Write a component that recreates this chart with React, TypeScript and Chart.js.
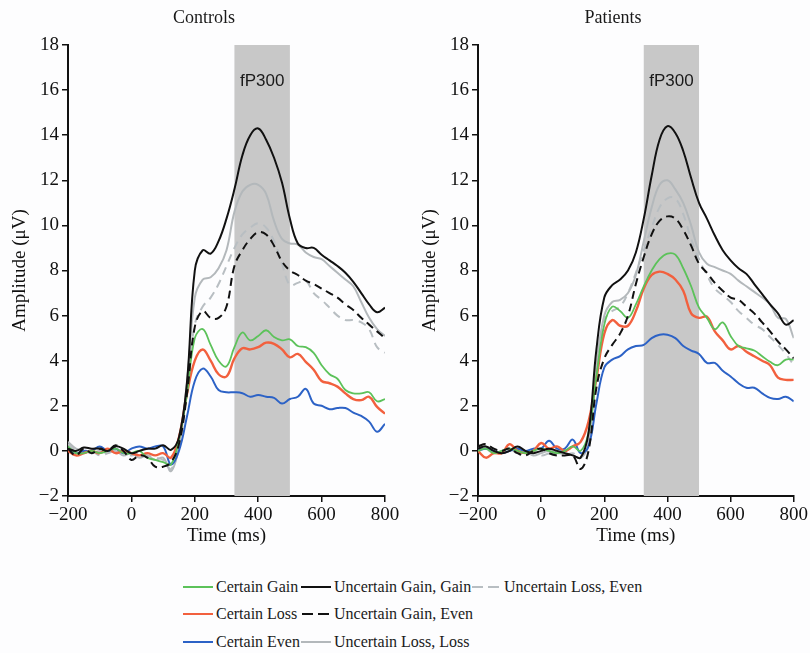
import React, { useEffect, useRef } from "react";
import { Chart, registerables } from "chart.js";

Chart.register(...registerables);

// ---------- data ----------
const times = [
  -200, -175, -150, -125, -100, -75, -50, -25, 0, 25, 50, 75, 100,
  125, 150, 175, 200,
  225, 250, 275, 300, 325, 350, 375, 400,
  425, 450, 475, 500, 525, 550, 575, 600,
  625, 650, 675, 700, 725, 750, 775, 800,
];

const xTicks = [-200, 0, 200, 400, 600, 800];
const yTicks = [-2, 0, 2, 4, 6, 8, 10, 12, 14, 16, 18];
const bandStart = 325;
const bandEnd = 500;
const bandLabel = "fP300";

// Controls
const ctrlCertainGain = [0.2, -0.1, -0.1, 0.0, -0.1, 0.0, 0.1, -0.1, -0.1, 0.0, -0.3, -0.4, -0.5,
  -0.6, 0.5, 2.5, 5.0,
  5.4, 4.7, 4.0, 3.75, 4.6, 5.25, 4.9, 5.1,
  5.35, 5.05, 4.9, 4.95, 4.65, 4.6, 4.35, 3.8,
  3.4, 3.2, 2.7, 2.55, 2.55, 2.6, 2.2, 2.3];
const ctrlCertainLoss = [0.0, -0.2, -0.1, 0.0, -0.1, 0.1, -0.1, 0.0, -0.1, -0.2, -0.1, -0.2, -0.1,
  -0.3, 0.6, 2.5, 4.0,
  4.5, 4.0, 3.4, 3.3, 4.1, 4.55, 4.5, 4.6,
  4.8, 4.75, 4.5, 4.15, 4.3, 3.95, 3.6, 3.1,
  3.0, 2.85, 2.55, 2.3, 2.25, 2.4, 1.95, 1.65];
const ctrlCertainEven = [0.1, -0.1, 0.0, 0.0, 0.2, 0.0, 0.1, -0.1, 0.1, 0.2, 0.1, 0.2, 0.2,
  -0.6, 0.0, 1.5, 3.1,
  3.65, 3.3, 2.7, 2.6, 2.6, 2.56, 2.4, 2.48,
  2.4, 2.35, 2.1, 2.3, 2.4, 2.75, 2.1, 2.0,
  1.85, 1.9, 1.9, 1.7, 1.55, 1.3, 0.85, 1.2];
const ctrlUncGainGain = [0.1, 0.0, 0.15, 0.1, 0.1, 0.0, 0.2, 0.1, -0.1, 0.0, 0.1, 0.1, 0.25,
  0.05, 0.6, 3.0, 8.0,
  8.9, 8.75, 9.3, 10.3, 11.6, 13.1, 14.0, 14.3,
  13.8, 13.0, 11.9, 10.3, 9.2, 9.0, 9.0, 8.7,
  8.45, 8.2, 7.9, 7.5, 7.0, 6.5, 6.15, 6.35];
const ctrlUncGainEven = [0.1, -0.2, 0.1, -0.1, 0.1, 0.0, 0.25, 0.0, -0.4, -0.2, -0.3, -0.7, -0.7,
  -0.5, 0.3, 2.5, 5.5,
  6.2, 5.9, 5.9, 6.4, 8.2, 8.9, 9.4, 9.7,
  9.6, 9.1, 8.4, 8.0, 7.8, 7.55, 7.4, 7.2,
  7.0, 6.8, 6.5, 6.25, 5.9, 5.6, 5.3, 5.0];
const ctrlUncLossEven = [0.3, 0.0, -0.1, 0.0, -0.2, -0.1, 0.1, -0.1, -0.2, -0.1, -0.2, -0.3, -0.4,
  -0.8, 0.2, 2.8, 5.6,
  6.4, 6.8, 7.4, 8.2, 9.0, 9.6, 9.9, 10.1,
  9.9, 9.3, 8.3, 7.35, 7.45, 7.55, 7.0, 6.7,
  6.35, 6.0, 5.8, 5.8, 5.7, 5.4, 4.6, 4.35];
const ctrlUncLossLoss = [0.4, 0.1, 0.0, -0.1, 0.0, -0.1, 0.0, -0.2, -0.1, -0.3, -0.2, -0.4, -0.3,
  -0.9, 0.2, 3.0, 6.8,
  7.6, 7.7, 8.1, 8.9, 10.6, 11.5, 11.8, 11.8,
  11.4, 10.2, 9.4, 9.2, 9.15, 8.8, 8.6, 8.5,
  8.2, 7.9, 7.6, 7.3, 6.6, 5.9, 5.4, 5.1];

// Patients
const patCertainGain = [0.0, 0.1, -0.1, 0.0, 0.1, 0.0, -0.1, 0.0, 0.1, 0.0, -0.1, 0.0, 0.2,
  0.0, 0.8, 3.3, 5.6,
  6.4, 6.2, 5.9, 6.5, 7.3, 8.0, 8.5, 8.75,
  8.7, 8.1, 7.3, 6.35, 5.9, 5.4, 5.7, 5.1,
  4.65, 4.55, 4.45, 4.2, 3.95, 3.8, 4.05, 4.05];
const patCertainLoss = [0.0, -0.3, -0.1, -0.1, 0.3, 0.0, -0.1, 0.0, 0.35, 0.1, 0.2, 0.0, 0.2,
  0.4, 1.3, 3.2, 5.2,
  5.8, 5.55, 5.55, 6.2, 7.2, 7.8, 7.95, 7.85,
  7.6, 7.1, 6.1, 5.9, 5.95, 5.3, 4.9, 4.5,
  4.65, 4.4, 4.2, 4.0, 3.8, 3.25, 3.15, 3.15];
const patCertainEven = [0.0, 0.1, 0.0, -0.1, 0.0, 0.1, 0.0, 0.1, 0.1, 0.45, 0.1, 0.1, 0.5,
  -0.1, 0.2, 2.1, 3.7,
  4.05, 4.2, 4.5, 4.65, 4.7, 5.0, 5.15, 5.15,
  5.0, 4.65, 4.45, 4.3, 3.9, 3.9, 3.55, 3.3,
  3.0, 2.8, 2.8, 2.55, 2.35, 2.3, 2.4, 2.2];
const patUncGainGain = [0.1, 0.2, 0.0, -0.1, 0.0, 0.2, 0.0, -0.1, 0.0, 0.1, 0.0, -0.1, -0.2,
  -0.3, 0.8, 4.5, 6.8,
  7.35, 7.6, 8.0, 8.8, 10.3, 12.2, 13.8, 14.4,
  14.1, 13.3, 12.1, 11.0, 10.3, 9.55, 8.9, 8.45,
  8.1, 7.85, 7.4, 6.95, 6.5, 6.1, 5.6, 5.8];
const patUncGainEven = [0.2, 0.3, 0.1, 0.0, 0.1, -0.1, -0.2, 0.0, 0.1, -0.1, -0.2, -0.2, -0.2,
  -0.8, 0.0, 2.8, 4.1,
  4.7, 5.2, 6.0, 7.4, 8.6, 9.6, 10.2, 10.4,
  10.3, 9.8, 9.1, 8.3, 7.9, 7.45, 7.1, 6.8,
  6.7, 6.4, 6.1, 5.7, 5.3, 4.85, 4.5, 4.1];
const patUncLossEven = [0.0, 0.2, 0.1, -0.1, 0.0, 0.1, -0.1, 0.0, -0.2, -0.1, 0.0, -0.2, -0.1,
  -0.3, 0.3, 3.5, 5.8,
  6.2, 6.4, 7.0, 7.9, 8.9, 9.9, 10.8, 11.2,
  11.2, 10.5, 9.4, 8.5, 7.8, 7.2, 6.9, 6.6,
  6.2, 5.9, 5.6, 5.4, 5.05, 4.7, 4.3, 3.8];
const patUncLossLoss = [0.2, 0.1, -0.1, 0.0, 0.1, -0.1, 0.0, -0.2, -0.1, 0.0, -0.1, -0.1, -0.2,
  -0.3, 0.3, 3.8, 6.0,
  6.6, 6.7, 7.0, 7.8, 9.3, 10.8, 11.8, 12.0,
  11.6, 11.0, 10.0, 8.8, 8.3, 8.15, 8.0, 7.85,
  7.55, 7.3, 7.05, 6.8, 6.5, 5.9, 5.85, 5.0];

// ---------- styles ----------
type Style = { key: string; label: string; color: string; dash: number[]; width: number };
const STYLES: Style[] = [
  { key: "ugg", label: "Uncertain Gain, Gain", color: "#111111", dash: [], width: 2 },
  { key: "uge", label: "Uncertain Gain, Even", color: "#111111", dash: [8, 5], width: 2 },
  { key: "cg", label: "Certain Gain", color: "#5cc25a", dash: [], width: 1.8 },
  { key: "cl", label: "Certain Loss", color: "#f2603e", dash: [], width: 2.4 },
  { key: "ce", label: "Certain Even", color: "#2c62c6", dash: [], width: 2 },
  { key: "ull", label: "Uncertain Loss, Loss", color: "#b3b8bb", dash: [], width: 2 },
  { key: "ule", label: "Uncertain Loss, Even", color: "#b8bec2", dash: [8, 6], width: 2 },
];

const controls: Record<string, number[]> = {
  cg: ctrlCertainGain, cl: ctrlCertainLoss, ce: ctrlCertainEven,
  ugg: ctrlUncGainGain, uge: ctrlUncGainEven, ule: ctrlUncLossEven, ull: ctrlUncLossLoss,
};
const patients: Record<string, number[]> = {
  cg: patCertainGain, cl: patCertainLoss, ce: patCertainEven,
  ugg: patUncGainGain, uge: patUncGainEven, ule: patUncLossEven, ull: patUncLossLoss,
};

const minus = (v: number | string) => String(v).replace("-", "\u2212");
const SERIF = "'Liberation Serif', 'Times New Roman', serif";
const SANS = "'Liberation Sans', Arial, sans-serif";

const panelPlugin = {
  id: "panel",
  beforeDatasetsDraw(chart: any, _args: any, opts: any) {
    const { ctx, chartArea, scales } = chart;
    const x0 = scales.x.getPixelForValue(bandStart);
    const x1 = scales.x.getPixelForValue(bandEnd);
    ctx.save();
    ctx.fillStyle = "#c8c8c8";
    ctx.fillRect(x0, chartArea.top, x1 - x0, chartArea.bottom - chartArea.top);
    ctx.fillStyle = "#1a1a1a";
    ctx.font = `17px ${SANS}`;
    ctx.textAlign = "center";
    ctx.textBaseline = "middle";
    ctx.fillText(bandLabel, (x0 + x1) / 2, chartArea.top + 36);
    ctx.font = `18px ${SERIF}`;
    ctx.fillText(opts.title, opts.titleX, 18);
    ctx.restore();
  },
};

type PanelProps = {
  title: string;
  titleX: number;
  values: Record<string, number[]>;
  left: number;
  yWidth: number;
  yTitlePad: number;
  rightPad: number;
};

function Panel({ title, titleX, values, left, yWidth, yTitlePad, rightPad }: PanelProps) {
  const ref = useRef<HTMLCanvasElement>(null);
  useEffect(() => {
    const tickFont = { family: SERIF, size: 19 };
    const chart = new Chart(ref.current as HTMLCanvasElement, {
      type: "line",
      data: {
        datasets: STYLES.map((s) => ({
          label: s.label,
          data: times.map((t, i) => ({ x: t, y: values[s.key][i] })),
          borderColor: s.color,
          borderDash: s.dash,
          borderWidth: s.width,
          pointRadius: 0,
          tension: 0.4,
          fill: false,
        })),
      },
      options: {
        responsive: false,
        animation: false,
        devicePixelRatio: 1,
        layout: { padding: { top: 45, right: rightPad, left: 0, bottom: 0 } },
        plugins: {
          legend: { display: false },
          tooltip: { enabled: false },
          panel: { title, titleX },
        } as any,
        scales: {
          x: {
            type: "linear",
            min: xTicks[0],
            max: xTicks[xTicks.length - 1],
            afterFit: (s: any) => { s.height = 64; },
            afterBuildTicks: (s: any) => { s.ticks = xTicks.map((v) => ({ value: v })); },
            ticks: { color: "#111", font: tickFont, maxRotation: 0, autoSkip: false, padding: 2, callback: (v: any) => minus(v) },
            grid: { drawOnChartArea: false, drawTicks: true, tickLength: 6, color: "#111", lineWidth: 1.5 },
            border: { display: true, color: "#111", width: 2 },
            title: { display: true, text: "Time (ms)", color: "#111", font: tickFont, padding: { top: 0, bottom: 13 } },
          },
          y: {
            type: "linear",
            min: yTicks[0],
            max: yTicks[yTicks.length - 1],
            afterFit: (s: any) => { s.width = yWidth; },
            afterBuildTicks: (s: any) => { s.ticks = yTicks.map((v) => ({ value: v })); },
            ticks: { color: "#111", font: tickFont, padding: 3, callback: (v: any) => minus(v) },
            grid: { drawOnChartArea: false, drawTicks: true, tickLength: 6, color: "#111", lineWidth: 1.5 },
            border: { display: true, color: "#111", width: 2 },
            title: { display: true, text: "Amplitude (\u03bcV)", color: "#111", font: tickFont, padding: { top: yTitlePad, bottom: 0 } },
          },
        },
      } as any,
      plugins: [panelPlugin],
    });
    return () => chart.destroy();
  }, []);
  return (
    <canvas
      ref={ref}
      width={405}
      height={560}
      style={{ position: "absolute", left, top: 0, width: 405, height: 560 }}
    />
  );
}

const legendCols = [
  ["cg", "cl", "ce"],
  ["ugg", "uge", "ull"],
  ["ule"],
];
const legendColX = [183, 301, 471];
const legendRowY = [587, 614, 642];

function LegendLine({ style }: { style: Style }) {
  return (
    <svg width={30} height={6} style={{ display: "block" }}>
      <line
        x1={0}
        y1={3}
        x2={30}
        y2={3}
        stroke={style.color}
        strokeWidth={2}
        strokeDasharray={style.dash.length ? "11 5" : undefined}
        strokeDashoffset={style.dash.length ? -1 : undefined}
      />
    </svg>
  );
}

function Legend() {
  return (
    <>
      {legendCols.map((col, ci) =>
        col.map((key, ri) => {
          const s = STYLES.find((st) => st.key === key)!;
          return (
            <div
              key={key}
              style={{
                position: "absolute",
                left: legendColX[ci],
                top: legendRowY[ri] - 10,
                height: 20,
                display: "flex",
                alignItems: "center",
                gap: 3,
                fontFamily: SERIF,
                fontSize: 16,
                color: "#1a1a1a",
                whiteSpace: "nowrap",
              }}
            >
              <LegendLine style={s} />
              <span>{s.label}</span>
            </div>
          );
        })
      )}
    </>
  );
}

export default function App() {
  return (
    <div
      style={{
        position: "fixed",
        left: 0,
        top: 0,
        width: 810,
        height: 653,
        background: "#fdfdfe",
        overflow: "hidden",
      }}
    >
      <Panel title="Controls" titleX={204} values={controls} left={0} yWidth={68} yTitlePad={9} rightPad={20} />
      <Panel title="Patients" titleX={208} values={patients} left={405} yWidth={73} yTitlePad={14} rightPad={15} />
      <Legend />
    </div>
  );
}
